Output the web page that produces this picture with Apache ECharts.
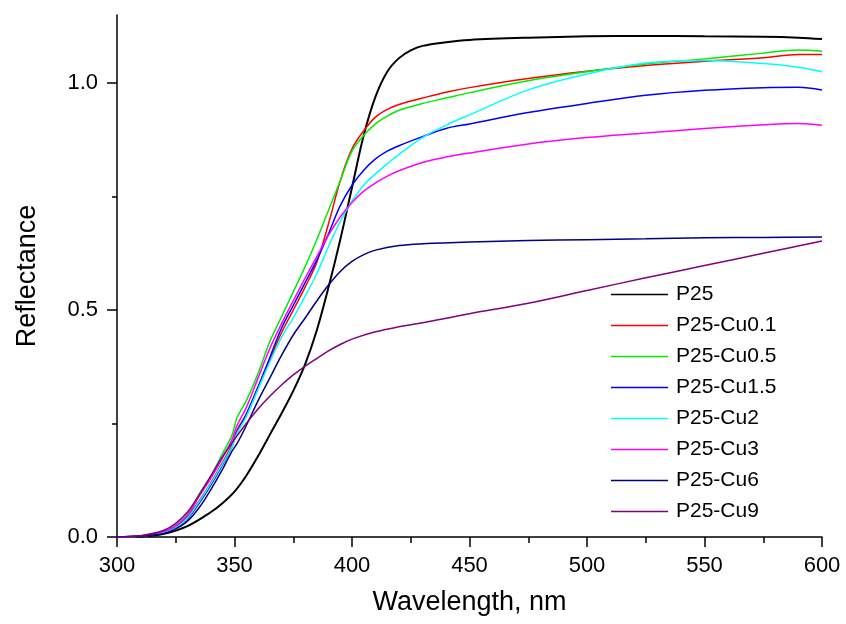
<!DOCTYPE html>
<html>
<head>
<meta charset="utf-8">
<script src="https://cdn.jsdelivr.net/npm/echarts@6/dist/echarts.min.js"></script>
<style>html,body{margin:0;padding:0;background:#fff}#c{width:846px;height:624px}</style>
</head>
<body>
<div id="c"></div>
<script>
const seriesNames = ['P25','P25-Cu0.1','P25-Cu0.5','P25-Cu1.5','P25-Cu2','P25-Cu3','P25-Cu6','P25-Cu9'];
const seriesColors = ['#000000','#ff0000','#00ee00','#0000ff','#00ffff','#ff00ff','#000080','#800080'];

const p25 = [[300,0],[310,0.001],[320,0.007],[330,0.024],[340,0.055],[345,0.075],[350,0.1],[355,0.135],[360,0.178],[365,0.225],[370,0.272],[375,0.322],[380,0.38],[385,0.455],[390,0.55],[395,0.655],[400,0.77],[405,0.885],[410,0.97],[415,1.025],[420,1.055],[425,1.072],[430,1.082],[440,1.09],[450,1.095],[475,1.1],[500,1.103],[525,1.104],[550,1.103],[575,1.102],[590,1.1],[600,1.097]];
const cu01 = [[300,0],[310,0.002],[320,0.01],[325,0.022],[330,0.045],[335,0.08],[340,0.12],[345,0.165],[349,0.205],[351,0.235],[355,0.27],[360,0.33],[365,0.39],[370,0.45],[375,0.5],[380,0.55],[385,0.605],[390,0.69],[395,0.785],[400,0.855],[405,0.895],[410,0.925],[415,0.942],[420,0.953],[430,0.967],[440,0.98],[450,0.99],[475,1.01],[500,1.026],[525,1.039],[550,1.048],[575,1.056],[590,1.063],[600,1.063]];
const cu05 = [[300,0],[310,0.002],[320,0.012],[325,0.025],[330,0.05],[335,0.095],[340,0.135],[345,0.185],[349,0.225],[351,0.262],[355,0.3],[360,0.36],[365,0.43],[370,0.485],[375,0.54],[380,0.595],[385,0.655],[390,0.72],[395,0.785],[400,0.85],[405,0.885],[410,0.91],[415,0.927],[420,0.94],[430,0.955],[440,0.967],[450,0.979],[475,1.005],[500,1.025],[525,1.042],[550,1.053],[575,1.066],[590,1.073],[600,1.07]];
const cu15 = [[300,0],[310,0.002],[320,0.01],[325,0.02],[330,0.04],[335,0.075],[340,0.115],[345,0.16],[349,0.2],[351,0.23],[355,0.27],[360,0.33],[365,0.395],[370,0.46],[375,0.51],[380,0.56],[385,0.61],[390,0.668],[395,0.73],[400,0.775],[405,0.808],[410,0.833],[415,0.85],[420,0.862],[430,0.882],[440,0.9],[450,0.91],[475,0.935],[500,0.955],[525,0.973],[550,0.984],[575,0.99],[590,0.991],[600,0.985]];
const cu2 = [[300,0],[310,0.002],[320,0.01],[325,0.02],[330,0.042],[335,0.078],[340,0.118],[345,0.162],[349,0.2],[351,0.228],[355,0.265],[360,0.325],[365,0.385],[370,0.44],[375,0.483],[380,0.53],[385,0.58],[390,0.64],[395,0.695],[400,0.74],[405,0.775],[410,0.8],[415,0.822],[420,0.843],[430,0.88],[440,0.907],[450,0.93],[475,0.985],[500,1.02],[525,1.044],[550,1.05],[575,1.043],[590,1.035],[600,1.025]];
const cu3 = [[300,0],[310,0.002],[320,0.012],[325,0.025],[330,0.048],[335,0.09],[340,0.13],[345,0.175],[349,0.215],[351,0.245],[355,0.285],[360,0.35],[365,0.415],[370,0.47],[375,0.52],[380,0.57],[385,0.617],[390,0.665],[395,0.705],[400,0.737],[405,0.762],[410,0.78],[415,0.795],[420,0.807],[430,0.825],[440,0.837],[450,0.846],[475,0.866],[500,0.88],[525,0.89],[550,0.9],[575,0.908],[590,0.911],[600,0.907]];
const cu6 = [[300,0],[310,0.002],[320,0.008],[325,0.018],[330,0.035],[335,0.065],[340,0.105],[345,0.15],[349,0.19],[351,0.205],[355,0.245],[360,0.3],[365,0.35],[370,0.4],[375,0.445],[380,0.482],[385,0.52],[390,0.555],[395,0.585],[400,0.607],[405,0.622],[410,0.632],[420,0.642],[430,0.646],[450,0.65],[475,0.653],[500,0.655],[525,0.657],[550,0.659],[575,0.66],[600,0.661]];
const cu9 = [[300,0],[310,0.003],[320,0.015],[325,0.03],[330,0.055],[335,0.093],[340,0.135],[345,0.178],[350,0.215],[355,0.25],[360,0.282],[365,0.31],[370,0.335],[375,0.357],[380,0.376],[385,0.393],[390,0.41],[395,0.424],[400,0.436],[410,0.452],[420,0.463],[430,0.472],[440,0.482],[450,0.492],[475,0.515],[500,0.543],[525,0.571],[550,0.598],[575,0.625],[600,0.652]];

const seriesData = [p25, cu01, cu05, cu15, cu2, cu3, cu6, cu9];
const yMajorTicks = [0, 0.5, 1.0];
const yMinorTicks = [0.25, 0.75];

const font = 'Liberation Sans, Arial, sans-serif';
const chart = echarts.init(document.getElementById('c'), null, {renderer: 'canvas'});
chart.setOption({
  animation: false,
  backgroundColor: '#fff',
  grid: {left: 117, right: 24, top: 15, bottom: 87, containLabel: false},
  legend: {
    orient: 'vertical', left: 606, top: 279,
    icon: 'rect', itemWidth: 57, itemHeight: 1.6, itemGap: 10,
    textStyle: {fontFamily: font, fontSize: 21, color: '#000', padding: [0,0,0,3]},
    data: seriesNames
  },
  xAxis: {
    type: 'value', min: 300, max: 600, interval: 50,
    name: 'Wavelength, nm', nameLocation: 'middle', nameGap: 52,
    nameTextStyle: {fontFamily: font, fontSize: 27, color: '#000'},
    axisLine: {lineStyle: {color: '#000', width: 1.5}},
    axisTick: {length: 10, lineStyle: {color: '#000', width: 1.5}},
    minorTick: {show: true, splitNumber: 2, length: 6, lineStyle: {color: '#000', width: 1.5}},
    axisLabel: {fontFamily: font, fontSize: 22, color: '#000', margin: 18},
    splitLine: {show: false}
  },
  yAxis: [{
    type: 'value', min: 0, max: 1.15,
    name: 'Reflectance', nameLocation: 'middle', nameGap: 76,
    nameTextStyle: {fontFamily: font, fontSize: 27, color: '#000'},
    axisLine: {show: true, lineStyle: {color: '#000', width: 1.5}},
    axisTick: {show: true, length: 10, customValues: yMajorTicks, lineStyle: {color: '#000', width: 1.5}},
    axisLabel: {fontFamily: font, fontSize: 22, color: '#000', margin: 19, customValues: yMajorTicks,
      formatter: v => v.toFixed(1)},
    splitLine: {show: false}
  }, {
    type: 'value', min: 0, max: 1.15, position: 'left',
    axisLine: {show: false},
    axisTick: {show: true, length: 5, customValues: yMinorTicks, lineStyle: {color: '#000', width: 1.5}},
    axisLabel: {show: false},
    splitLine: {show: false}
  }],
  series: seriesData.map((d, i) => ({
    name: seriesNames[i], type: 'line', data: d, yAxisIndex: 0,
    showSymbol: false, symbol: 'none', smooth: 0.35,
    lineStyle: {color: seriesColors[i], width: i === 0 ? 2 : 1.5},
    itemStyle: {color: seriesColors[i]}
  }))
});
</script>
</body>
</html>
